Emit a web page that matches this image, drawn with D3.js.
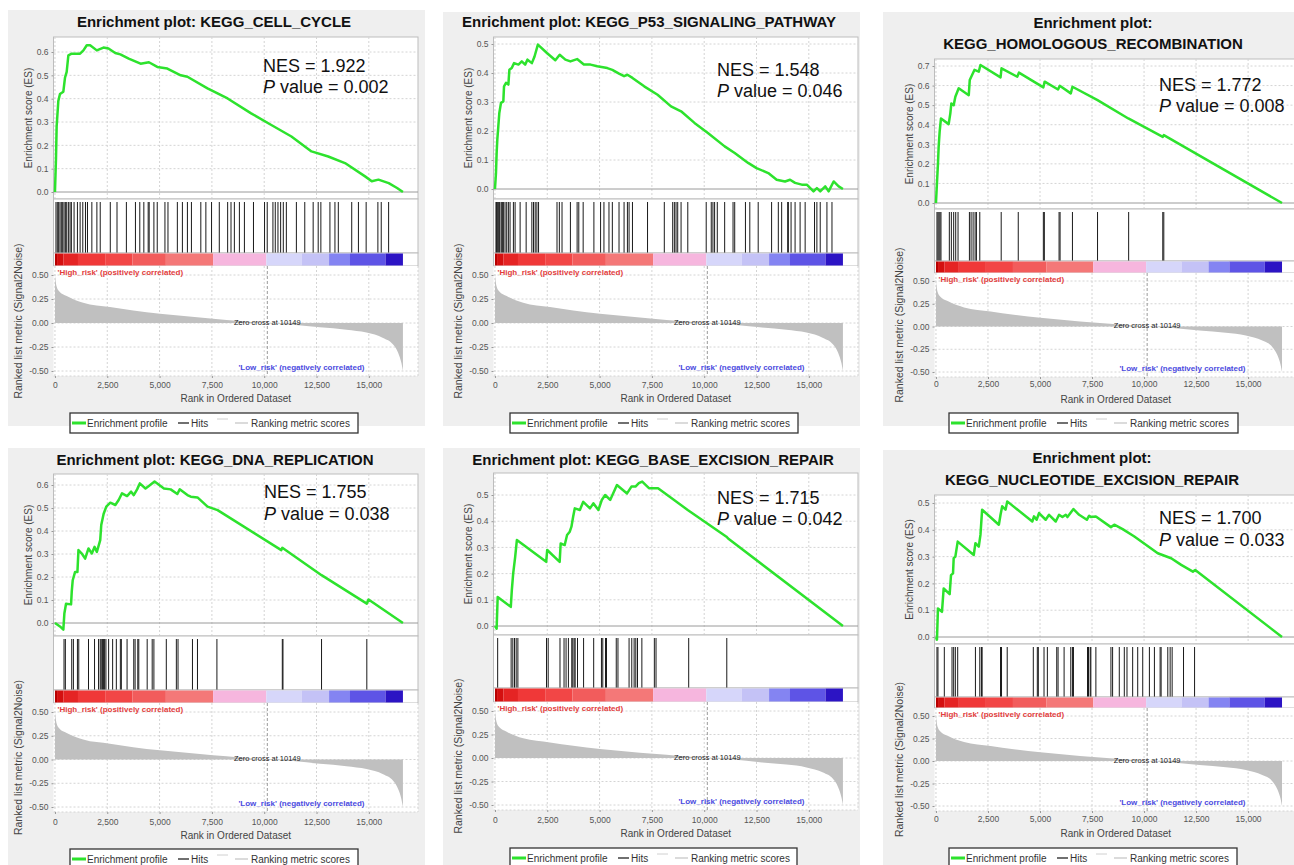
<!DOCTYPE html>
<html>
<head>
<meta charset="utf-8">
<script src="https://cdn.jsdelivr.net/npm/d3@7"></script>
<style>
body { margin: 0; background: #fff; }
svg text { font-family: "Liberation Sans", Arial, sans-serif; }
</style>
</head>
<body>
<div id="chart"></div>
<script>
// ---- data ----
var pathwayTitles = [
	["Enrichment plot: KEGG_CELL_CYCLE"],
	["Enrichment plot: KEGG_P53_SIGNALING_PATHWAY"],
	["Enrichment plot:", "KEGG_HOMOLOGOUS_RECOMBINATION"],
	["Enrichment plot: KEGG_DNA_REPLICATION"],
	["Enrichment plot: KEGG_BASE_EXCISION_REPAIR"],
	["Enrichment plot:", "KEGG_NUCLEOTIDE_EXCISION_REPAIR"]
];
var nesValues = ["1.922", "1.548", "1.772", "1.755", "1.715", "1.700"];
var pValues = ["0.002", "0.046", "0.008", "0.038", "0.042", "0.033"];

var xTicks = [0, 2500, 5000, 7500, 10000, 12500, 15000];
var rankTicks = [-0.5, -0.25, 0, 0.25, 0.5];
var zeroCross = 10149;
var legendLabels = ["Enrichment profile", "Hits", "Ranking metric scores"];

// [rank, enrichment score]
var esCellCycle = [[0,0],[48,0.14],[80,0.28],[160,0.39],[240,0.42],[400,0.43],[480,0.49],[560,0.515],[640,0.586],[800,0.593],[1200,0.593],[1360,0.607],[1520,0.629],[1680,0.629],[2000,0.607],[2320,0.619],[2560,0.615],[2880,0.596],[3125,0.59],[3525,0.572],[4090,0.55],[4490,0.556],[4890,0.536],[5370,0.529],[6010,0.5],[6330,0.494],[7290,0.444],[8250,0.401],[9375,0.337],[10340,0.287],[11300,0.238],[12260,0.174],[13060,0.152],[13860,0.124],[14820,0.067],[15140,0.046],[15460,0.053],[15950,0.038],[16350,0.017],[16630,0]];
var esP53 = [[0,0],[48,0.055],[80,0.124],[112,0.17],[160,0.216],[208,0.262],[288,0.297],[400,0.302],[433,0.354],[529,0.366],[641,0.36],[689,0.411],[801,0.417],[913,0.434],[1122,0.429],[1282,0.44],[1442,0.429],[1554,0.446],[1763,0.434],[1891,0.457],[2051,0.498],[2484,0.469],[2885,0.444],[3093,0.463],[3365,0.446],[3606,0.44],[3926,0.448],[4247,0.429],[4567,0.429],[4888,0.423],[5369,0.417],[5609,0.411],[5929,0.398],[6170,0.389],[6330,0.394],[6571,0.383],[7131,0.354],[7772,0.325],[8413,0.285],[8894,0.268],[9535,0.228],[10176,0.193],[10978,0.147],[11458,0.124],[12099,0.09],[12500,0.072],[13061,0.055],[13462,0.032],[13862,0.026],[14103,0.032],[14343,0.021],[14663,0.015],[14904,0.015],[15224,-0.008],[15385,0.003],[15545,-0.008],[15785,0.009],[15946,-0.008],[16186,0.026],[16426,0.009],[16630,0]];
var esHomologous = [[0,0],[48,0.102],[96,0.2],[129,0.287],[177,0.364],[241,0.432],[611,0.403],[691,0.458],[740,0.509],[852,0.5],[932,0.543],[1093,0.586],[1576,0.551],[1624,0.628],[1736,0.654],[1849,0.68],[2058,0.671],[2138,0.705],[3103,0.642],[3151,0.688],[3907,0.645],[3987,0.666],[5161,0.591],[5225,0.62],[5868,0.58],[5949,0.599],[6479,0.56],[6559,0.594],[7765,0.526],[9244,0.432],[10900,0.338],[10949,0.347],[16630,0]];
var esDnaReplication = [[0,0],[240,-0.015],[400,-0.029],[449,0.041],[529,0.084],[769,0.081],[801,0.135],[849,0.186],[962,0.222],[1074,0.222],[1122,0.317],[1282,0.302],[1442,0.28],[1603,0.324],[1763,0.302],[1891,0.331],[2003,0.309],[2163,0.36],[2212,0.426],[2324,0.474],[2452,0.506],[2644,0.523],[2885,0.513],[3045,0.535],[3205,0.564],[3446,0.552],[3638,0.571],[3766,0.556],[3926,0.581],[4054,0.607],[4327,0.585],[4487,0.596],[4760,0.615],[5208,0.585],[5529,0.581],[5849,0.561],[5962,0.581],[6330,0.556],[6490,0.549],[6811,0.546],[7292,0.506],[7772,0.491],[10817,0.317],[10865,0.327],[12740,0.208],[14904,0.084],[14984,0.102],[16630,0]];
var esBaseExcision = [[0,0],[80,-0.01],[129,0.111],[757,0.073],[805,0.136],[870,0.2],[966,0.264],[1047,0.328],[2448,0.245],[2496,0.29],[3092,0.245],[3140,0.315],[3333,0.309],[3446,0.347],[3575,0.36],[3655,0.379],[3736,0.417],[3816,0.449],[4058,0.443],[4219,0.474],[4541,0.449],[4702,0.468],[4944,0.443],[5105,0.481],[5266,0.5],[5507,0.481],[5829,0.538],[6312,0.506],[6522,0.532],[6715,0.532],[6876,0.545],[7037,0.551],[7359,0.526],[7794,0.526],[9211,0.443],[11063,0.341],[11143,0.334],[16630,0]];
var esNucleotideExcision = [[0,0],[48,-0.01],[96,0.106],[289,0.094],[370,0.181],[659,0.16],[723,0.231],[820,0.2375],[852,0.294],[932,0.3],[1045,0.356],[1817,0.306],[1897,0.35],[2058,0.3375],[2138,0.381],[2219,0.475],[3023,0.419],[3103,0.456],[3183,0.4875],[3344,0.475],[3424,0.506],[4630,0.431],[4711,0.45],[4839,0.4375],[4952,0.4625],[5273,0.4375],[5434,0.456],[5756,0.431],[5916,0.456],[6077,0.4475],[6238,0.456],[6318,0.4475],[6608,0.4775],[6881,0.456],[7251,0.4375],[7363,0.4525],[7444,0.4475],[7685,0.45],[8408,0.41],[8569,0.419],[8971,0.4025],[9534,0.375],[10659,0.3125],[11302,0.294],[11785,0.269],[12347,0.244],[12460,0.25],[16630,0]];

// gene-set member positions in the ranked list
var hitsCellCycle = [48,112,176,240,304,369,433,497,561,641,721,785,913,1074,1202,1330,1458,1554,1763,2003,2163,2644,2965,3413,3846,4054,4247,4455,4503,4728,4888,5256,5401,5849,6090,6330,6522,6971,7212,7484,7853,8253,8413,8574,8814,9054,9487,10016,10144,10417,10529,10657,10785,10913,11058,11538,11939,12340,12580,12708,13141,13381,13542,14183,14503,14872,15433,15593,15946];
var hitsP53 = [48,80,112,160,208,240,321,369,401,481,561,641,721,881,962,1202,1490,1763,1843,1923,2003,2083,2965,3077,3205,3606,3926,4006,4215,4728,5048,5208,5449,5609,5929,6170,6330,6410,6571,7292,8093,8494,8574,8654,8734,8894,9215,10096,10337,10417,10497,10625,10978,11378,11458,11971,12179,12580,13221,13542,13702,13990,14022,14151,14343,14583,14824,15272,15385,15545,15865,16106];
var hitsHomologous = [48,96,145,193,241,643,740,852,949,1061,1608,1688,1785,1881,1945,2106,3135,3955,5161,5209,5916,5965,6559,7765,9260,10900,10949];
var hitsDnaReplication = [433,497,801,881,1074,1138,1603,1891,2083,2163,2212,2276,2324,2372,2436,2564,2756,2933,3125,3173,3446,3766,3830,3958,4006,4407,4647,4728,5321,5801,5881,6571,6811,7740,10865,10897,12740,14904];
var hitsBaseExcision = [129,773,853,934,1014,1095,2464,2544,3108,3301,3398,3510,3671,3720,3784,3833,3945,4235,4718,5089,5153,5282,5330,5797,5878,6409,6538,6651,6731,6812,7021,7617,7697,9259,11079];
var hitsNucleotideExcision = [48,96,402,772,852,932,1045,1897,2106,2186,2219,3103,3151,3424,4678,4871,4920,5193,5354,5804,5868,6158,6479,6559,6608,7283,7331,7412,7444,7685,8408,8489,8810,9051,9180,9453,9695,9936,10257,10498,10772,10820,11141,11254,11350,11897,12428];

// ranked list metric (Signal2Noise), shared by all plots: [rank, value]
var rankedMetric = [[0,0.50],[30,0.44],[80,0.38],[200,0.33],[560,0.28],[1350,0.21],[2630,0.166],[3740,0.13],[5020,0.097],[6290,0.07],[7560,0.045],[8840,0.022],[10149,0],[11380,-0.017],[12660,-0.045],[13930,-0.07],[14890,-0.10],[15680,-0.155],[16160,-0.224],[16400,-0.31],[16560,-0.42],[16630,-0.50]];

// heat bar bands: [from rank, to rank, colour]
var colorBands = [[0,100,"#b80000"],[100,400,"#d41010"],[400,1100,"#e52424"],[1100,2400,"#f03838"],[2400,3700,"#f24646"],[3700,5300,"#f25c5c"],[5300,7560,"#f47878"],[7560,10100,"#f6b6de"],[10100,11800,"#d6d6fa"],[11800,13100,"#c4c2f6"],[13100,14100,"#8484f2"],[14100,15800,"#5e54e6"],[15800,16630,"#2c14c4"]];

var esCurves = [esCellCycle, esP53, esHomologous, esDnaReplication, esBaseExcision, esNucleotideExcision];
var hitLists = [hitsCellCycle, hitsP53, hitsHomologous, hitsDnaReplication, hitsBaseExcision, hitsNucleotideExcision];

// ---- layout of each panel (pixels) ----
var layouts = [
	{bg:[8,10,417,416], left:53.5, right:418, esTop:37, esBot:199, esY0:192, esRef:[0.6,52], hitsBot:253, barBot:266, rankBot:376, rY05:275, rYm05:371, tickY:385, xlabY:398, legend:[70,413,288], titleX:214, titleY:[27], nes:[263,72,93]},
	{bg:[443,12,417,414], left:493.5, right:858, esTop:37, esBot:199, esY0:189, esRef:[0.5,44], hitsBot:253, barBot:266, rankBot:376, rY05:275, rYm05:371, tickY:385, xlabY:398, legend:[510,413,288], titleX:649, titleY:[27], nes:[717,76,97]},
	{bg:[883,12,420,414], left:934.5, right:1297, esTop:59, esBot:209, esY0:203, esRef:[0.7,66], hitsBot:261, barBot:273, rankBot:377, rY05:281, rYm05:372, tickY:384, xlabY:399, legend:[949,413,289], titleX:1093, titleY:[28,49], nes:[1159,91,112]},
	{bg:[8,448,417,430], left:53.5, right:418, esTop:474, esBot:636, esY0:623, esRef:[0.6,485], hitsBot:690, barBot:703, rankBot:812, rY05:712, rYm05:807, tickY:822, xlabY:835, legend:[70,849,288], titleX:215, titleY:[465], nes:[264,498,520]},
	{bg:[443,448,417,430], left:493.5, right:858, esTop:473, esBot:635, esY0:626, esRef:[0.5,495], hitsBot:688, barBot:702, rankBot:810, rY05:711, rYm05:805, tickY:820, xlabY:833, legend:[510,848,287], titleX:653, titleY:[465], nes:[717,504,525]},
	{bg:[883,450,420,430], left:934.5, right:1297, esTop:495, esBot:644, esY0:637, esRef:[0.5,503], hitsBot:697, barBot:708, rankBot:811, rY05:716, rYm05:806, tickY:819, xlabY:833, legend:[949,848,288], titleX:1092, titleY:[463,485], nes:[1159,524,546]}
];

var esGreen = "#2de22d";
var frameGrey = "#bdbdbd";
var gridGrey = "#d4d4d4";

function drawPanel(svg, L, i) {
	var g = svg.append("g");
	g.append("rect").attr("x", L.bg[0]).attr("y", L.bg[1]).attr("width", L.bg[2])
		.attr("height", L.bg[3]).attr("fill", "#efefef");

	var x = d3.scaleLinear().domain([-70, 17350]).range([L.left, L.right]);
	var esTmp = d3.scaleLinear().domain([0, L.esRef[0]]).range([L.esY0, L.esRef[1]]);
	var yES = d3.scaleLinear().domain([esTmp.invert(L.esBot), esTmp.invert(L.esTop)])
		.range([L.esBot, L.esTop]);
	var rTmp = d3.scaleLinear().domain([-0.5, 0.5]).range([L.rYm05, L.rY05]);
	var yR = d3.scaleLinear().domain([rTmp.invert(L.rankBot), rTmp.invert(L.barBot)])
		.range([L.rankBot, L.barBot]);
	var w = L.right - L.left;

	// title
	pathwayTitles[i].forEach(function(t, k) {
		g.append("text").attr("x", L.titleX).attr("y", L.titleY[k])
			.attr("text-anchor", "middle").attr("font-size", 15).attr("font-weight", "bold")
			.attr("fill", "#111").text(t);
	});

	// enrichment score plot
	g.append("rect").attr("x", L.left).attr("y", L.esTop).attr("width", w)
		.attr("height", L.esBot - L.esTop).attr("fill", "#fff").attr("stroke", frameGrey);
	var esMax = Math.floor(yES.domain()[1] * 10 + 1e-6) / 10;
	var esTicks = d3.range(0, esMax + 0.001, 0.1);
	xTicks.forEach(function(t) {
		g.append("line").attr("x1", x(t)).attr("x2", x(t)).attr("y1", L.esTop).attr("y2", L.esBot)
			.attr("stroke", gridGrey).attr("stroke-dasharray", "2,2");
	});
	esTicks.forEach(function(t) {
		if (t === 0) return;
		g.append("line").attr("x1", L.left).attr("x2", L.right).attr("y1", yES(t)).attr("y2", yES(t))
			.attr("stroke", gridGrey).attr("stroke-dasharray", "2,2");
	});
	g.append("line").attr("x1", L.left).attr("x2", L.right).attr("y1", yES(0)).attr("y2", yES(0))
		.attr("stroke", "#9a9a9a").attr("stroke-width", 1);
	var esLine = d3.line().x(function(d) { return x(d[0]); }).y(function(d) { return yES(d[1]); });
	g.append("path").attr("d", esLine(esCurves[i])).attr("fill", "none").attr("stroke", esGreen)
		.attr("stroke-width", 2.5).attr("stroke-linejoin", "round");

	var esAxis = g.append("g").attr("transform", "translate(" + L.left + ",0)")
		.call(d3.axisLeft(yES).tickValues(esTicks).tickFormat(function(d) { return d.toFixed(1); })
			.tickSizeInner(2).tickSizeOuter(0).tickPadding(3));
	esAxis.select(".domain").remove();
	esAxis.selectAll("line").attr("stroke", "#999");
	esAxis.selectAll("text").attr("font-size", 8.5).attr("fill", "#555").attr("font-family", null);

	// hits
	g.append("rect").attr("x", L.left).attr("y", L.esBot).attr("width", w)
		.attr("height", L.hitsBot - L.esBot).attr("fill", "#fff").attr("stroke", frameGrey);
	g.selectAll(".hit").data(hitLists[i]).enter().append("line")
		.attr("x1", function(d) { return x(d); }).attr("x2", function(d) { return x(d); })
		.attr("y1", L.esBot + 3).attr("y2", L.hitsBot).attr("stroke", "#1a1a1a").attr("stroke-width", 1);

	// heat bar
	g.append("rect").attr("x", L.left).attr("y", L.hitsBot).attr("width", w)
		.attr("height", L.barBot - L.hitsBot).attr("fill", "#fff").attr("stroke", frameGrey);
	colorBands.forEach(function(b) {
		g.append("rect").attr("x", x(b[0])).attr("y", L.hitsBot + 0.5).attr("width", x(b[1]) - x(b[0]))
			.attr("height", L.barBot - L.hitsBot - 1).attr("fill", b[2]);
	});

	// ranked list metric
	g.append("rect").attr("x", L.left).attr("y", L.barBot).attr("width", w)
		.attr("height", L.rankBot - L.barBot).attr("fill", "#fff");
	xTicks.forEach(function(t) {
		g.append("line").attr("x1", x(t)).attr("x2", x(t)).attr("y1", L.barBot).attr("y2", L.rankBot)
			.attr("stroke", gridGrey).attr("stroke-dasharray", "2,2");
	});
	rankTicks.forEach(function(t) {
		g.append("line").attr("x1", L.left).attr("x2", L.right).attr("y1", yR(t)).attr("y2", yR(t))
			.attr("stroke", gridGrey).attr("stroke-dasharray", "2,2");
	});
	g.append("line").attr("x1", L.right).attr("x2", L.right).attr("y1", L.barBot).attr("y2", L.rankBot)
		.attr("stroke", gridGrey).attr("stroke-dasharray", "2,2");
	g.append("line").attr("x1", L.left).attr("x2", L.right).attr("y1", L.rankBot).attr("y2", L.rankBot)
		.attr("stroke", gridGrey).attr("stroke-dasharray", "2,2");
	var metricArea = d3.area().x(function(d) { return x(d[0]); }).y0(yR(0))
		.y1(function(d) { return yR(d[1]); }).curve(d3.curveMonotoneX);
	g.append("path").attr("d", metricArea(rankedMetric)).attr("fill", "#c0c0c0");
	g.append("line").attr("x1", x(zeroCross)).attr("x2", x(zeroCross)).attr("y1", L.barBot)
		.attr("y2", L.rankBot).attr("stroke", "#9a9a9a").attr("stroke-dasharray", "3,2");
	g.append("text").attr("x", x(zeroCross)).attr("y", yR(0) + 1.5).attr("text-anchor", "middle")
		.attr("font-size", 7.5).attr("fill", "#222").text("Zero cross at " + zeroCross);
	g.append("text").attr("x", L.left + 4).attr("y", L.barBot + 8.5).attr("font-size", 8)
		.attr("font-weight", "bold").attr("fill", "#e23c3c").text("'High_risk' (positively correlated)");
	g.append("text").attr("x", L.left + 311).attr("y", L.rYm05 - 1).attr("text-anchor", "end")
		.attr("font-size", 8).attr("font-weight", "bold").attr("fill", "#4a4ae0")
		.text("'Low_risk' (negatively correlated)");

	var rAxis = g.append("g").attr("transform", "translate(" + L.left + ",0)")
		.call(d3.axisLeft(yR).tickValues(rankTicks).tickFormat(function(d) { return d.toFixed(2); })
			.tickSizeInner(2).tickSizeOuter(0).tickPadding(3));
	rAxis.select(".domain").remove();
	rAxis.selectAll("line").attr("stroke", "#999");
	rAxis.selectAll("text").attr("font-size", 8.5).attr("fill", "#555").attr("font-family", null);

	var xAxis = g.append("g").attr("transform", "translate(0," + L.rankBot + ")")
		.call(d3.axisBottom(x).tickValues(xTicks).tickFormat(d3.format(","))
			.tickSizeInner(2).tickSizeOuter(0).tickPadding(L.tickY - 3 - L.rankBot - 2));
	xAxis.select(".domain").remove();
	xAxis.selectAll("line").attr("stroke", "#999");
	xAxis.selectAll("text").attr("font-size", 8.5).attr("fill", "#555").attr("font-family", null);

	// axis titles
	g.append("text").attr("x", (L.left + L.right) / 2).attr("y", L.xlabY + 4).attr("text-anchor", "middle")
		.attr("font-size", 10).attr("fill", "#444").text("Rank in Ordered Dataset");
	g.append("text").attr("transform", "translate(" + (L.left - 22) + "," + ((L.esTop + L.esBot) / 2) + ") rotate(-90)")
		.attr("text-anchor", "middle").attr("font-size", 10).attr("fill", "#444").text("Enrichment score (ES)");
	g.append("text").attr("transform", "translate(" + (L.left - 32) + "," + ((L.barBot + L.rankBot) / 2) + ") rotate(-90)")
		.attr("text-anchor", "middle").attr("font-size", 10.5).attr("fill", "#444")
		.text("Ranked list metric (Signal2Noise)");

	// NES and p value
	g.append("text").attr("x", L.nes[0]).attr("y", L.nes[1]).attr("font-size", 18).attr("fill", "#111")
		.text("NES = " + nesValues[i]);
	var pt = g.append("text").attr("x", L.nes[0]).attr("y", L.nes[2]).attr("font-size", 18).attr("fill", "#111");
	pt.append("tspan").attr("font-style", "italic").text("P");
	pt.append("tspan").text(" value = " + pValues[i]);

	// legend
	var lx = L.legend[0], ly = L.legend[1], cy = ly + 10;
	g.append("rect").attr("x", lx).attr("y", ly).attr("width", L.legend[2]).attr("height", 20)
		.attr("fill", "#fff").attr("stroke", "#333").attr("stroke-width", 1.3);
	g.append("line").attr("x1", lx + 2).attr("x2", lx + 16).attr("y1", cy).attr("y2", cy)
		.attr("stroke", esGreen).attr("stroke-width", 3);
	g.append("text").attr("x", lx + 17).attr("y", cy + 3.5).attr("font-size", 10).attr("fill", "#333").text(legendLabels[0]);
	g.append("line").attr("x1", lx + 108).attr("x2", lx + 119).attr("y1", cy).attr("y2", cy)
		.attr("stroke", "#222").attr("stroke-width", 1.3);
	g.append("text").attr("x", lx + 121).attr("y", cy + 3.5).attr("font-size", 10).attr("fill", "#333").text(legendLabels[1]);
	g.append("line").attr("x1", lx + 147).attr("x2", lx + 158).attr("y1", cy - 4).attr("y2", cy - 4)
		.attr("stroke", "#d0d0d0").attr("stroke-width", 1);
	g.append("line").attr("x1", lx + 165).attr("x2", lx + 178).attr("y1", cy).attr("y2", cy)
		.attr("stroke", "#c8c8c8").attr("stroke-width", 1.3);
	g.append("text").attr("x", lx + 181).attr("y", cy + 3.5).attr("font-size", 10).attr("fill", "#333").text(legendLabels[2]);
}

try {
	var svg = d3.select("#chart").append("svg").attr("width", 1294).attr("height", 865);
	svg.append("rect").attr("width", 1294).attr("height", 865).attr("fill", "#fff");
	for (var i = 0; i < layouts.length; i++) {
		drawPanel(svg, layouts[i], i);
	}
} catch (error) {
	console.log("drawPanel Error: " + error);
}
</script>
</body>
</html>
